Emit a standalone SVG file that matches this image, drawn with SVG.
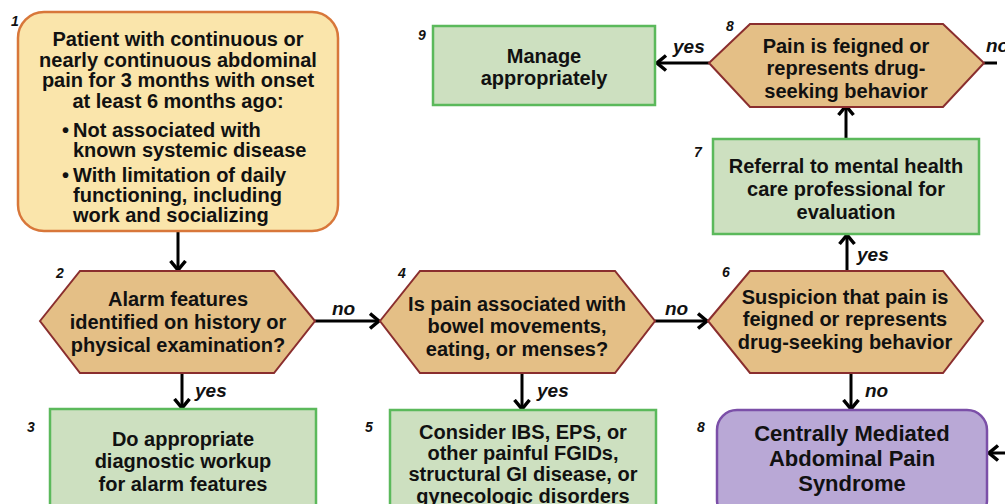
<svg xmlns="http://www.w3.org/2000/svg" width="1005" height="504" viewBox="0 0 1005 504">
<defs>
<style>
text{font-family:"Liberation Sans",Arial,sans-serif;font-weight:bold;fill:#111}
.t{font-size:20px;text-anchor:middle}
.tl{font-size:20px}
.big{font-size:22px;text-anchor:middle}
.num{font-size:14px;font-style:italic}
.lab{font-size:19px;font-style:italic}
.yel{fill:#fae5ab;stroke:#d8773a;stroke-width:2.5}
.hex{fill:#e4bf86;stroke:#8a2e2e;stroke-width:2}
.grn{fill:#cde0c0;stroke:#5bb95b;stroke-width:2.5}
.pur{fill:#b9a8d6;stroke:#7b4fa8;stroke-width:2.5}
.c{stroke:#000;stroke-width:3;fill:none}
</style>
<marker id="ah" viewBox="0 0 12 18" refX="10.5" refY="9" markerWidth="12" markerHeight="18" markerUnits="userSpaceOnUse" orient="auto">
<path d="M1.5,1.5 L10.5,9 L1.5,16.5" fill="none" stroke="#000" stroke-width="3.5"/>
</marker>
</defs>
<rect width="1005" height="504" fill="#fff"/>

<g id="connectors">
<path class="c" d="M178,231 V270" marker-end="url(#ah)"/>
<path class="c" d="M315,321 H379" marker-end="url(#ah)"/>
<path class="c" d="M182,373 V408" marker-end="url(#ah)"/>
<path class="c" d="M522,373 V409" marker-end="url(#ah)"/>
<path class="c" d="M655,321 H707" marker-end="url(#ah)"/>
<path class="c" d="M847,271 V235" marker-end="url(#ah)"/>
<path class="c" d="M851,373 V409" marker-end="url(#ah)"/>
<path class="c" d="M846,139 V106" marker-end="url(#ah)"/>
<path class="c" d="M709,63 H657" marker-end="url(#ah)"/>
<path class="c" d="M984,63 H997"/>
<path class="c" d="M1005,453 H989" marker-end="url(#ah)"/>
<text class="lab" x="332" y="315">no</text>
<text class="lab" x="665" y="315">no</text>
<text class="lab" x="195" y="397">yes</text>
<text class="lab" x="537" y="397">yes</text>
<text class="lab" x="857" y="261">yes</text>
<text class="lab" x="865" y="397">no</text>
<text class="lab" x="673" y="53">yes</text>
<text class="lab" x="986" y="52">no</text>
</g>

<g id="node1">
<rect class="yel" x="18" y="12" width="320" height="219" rx="26"/>
<text class="num" x="11" y="26">1</text>
<text class="t" x="178" y="46">Patient with continuous or</text>
<text class="t" x="178" y="67">nearly continuous abdominal</text>
<text class="t" x="178" y="87">pain for 3 months with onset</text>
<text class="t" x="178" y="108">at least 6 months ago:</text>
<text class="tl" x="62" y="137">•</text>
<text class="tl" x="73" y="137">Not associated with</text>
<text class="tl" x="73" y="157">known systemic disease</text>
<text class="tl" x="62" y="182">•</text>
<text class="tl" x="73" y="182">With limitation of daily</text>
<text class="tl" x="73" y="202">functioning, including</text>
<text class="tl" x="73" y="222">work and socializing</text>
</g>

<g id="node2">
<polygon class="hex" points="40,321 80,271 274,271 315,321 274,373 80,373"/>
<text class="num" x="56" y="278">2</text>
<text class="t" x="178" y="306">Alarm features</text>
<text class="t" x="178" y="329">identified on history or</text>
<text class="t" x="178" y="352">physical examination?</text>
</g>

<g id="node3">
<rect class="grn" x="50" y="409" width="266" height="100"/>
<text class="num" x="27" y="432">3</text>
<text class="t" x="183" y="446">Do appropriate</text>
<text class="t" x="183" y="468">diagnostic workup</text>
<text class="t" x="183" y="491">for alarm features</text>
</g>

<g id="node4">
<polygon class="hex" points="380,321 420,271 615,271 655,321 615,373 420,373"/>
<text class="num" x="398" y="278">4</text>
<text class="t" x="517" y="311">Is pain associated with</text>
<text class="t" x="517" y="333">bowel movements,</text>
<text class="t" x="517" y="356">eating, or menses?</text>
</g>

<g id="node5">
<rect class="grn" x="390" y="410" width="266" height="100"/>
<text class="num" x="365" y="432">5</text>
<text class="t" x="523" y="439">Consider IBS, EPS, or</text>
<text class="t" x="523" y="460">other painful FGIDs,</text>
<text class="t" x="523" y="481">structural GI disease, or</text>
<text class="t" x="523" y="503">gynecologic disorders</text>
</g>

<g id="node6">
<polygon class="hex" points="708,321 750,271 943,271 983,321 943,373 750,373"/>
<text class="num" x="722" y="277">6</text>
<text class="t" x="845" y="304">Suspicion that pain is</text>
<text class="t" x="845" y="326">feigned or represents</text>
<text class="t" x="845" y="349">drug-seeking behavior</text>
</g>

<g id="node7">
<rect class="grn" x="713" y="139" width="266" height="95"/>
<text class="num" x="694" y="157">7</text>
<text class="t" x="846" y="173">Referral to mental health</text>
<text class="t" x="846" y="196">care professional for</text>
<text class="t" x="846" y="219">evaluation</text>
</g>

<g id="node8top">
<polygon class="hex" points="709,63 750,24 943,24 984,63 943,107 750,107"/>
<text class="num" x="726" y="31">8</text>
<text class="t" x="846" y="53">Pain is feigned or</text>
<text class="t" x="846" y="75">represents drug-</text>
<text class="t" x="846" y="98">seeking behavior</text>
</g>

<g id="node9">
<rect class="grn" x="433" y="26" width="222" height="79"/>
<text class="num" x="418" y="40">9</text>
<text class="t" x="544" y="63">Manage</text>
<text class="t" x="544" y="85">appropriately</text>
</g>

<g id="node8bottom">
<rect class="pur" x="717" y="410" width="270" height="110" rx="20"/>
<text class="num" x="697" y="432">8</text>
<text class="big" x="852" y="441">Centrally Mediated</text>
<text class="big" x="852" y="466">Abdominal Pain</text>
<text class="big" x="852" y="491">Syndrome</text>
</g>
</svg>
